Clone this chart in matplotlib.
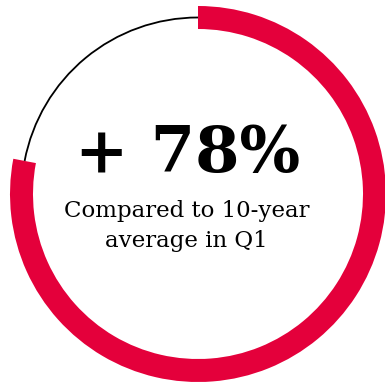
import matplotlib
matplotlib.use("Agg")
import matplotlib.pyplot as plt
from matplotlib.patches import Wedge, Arc

# share of the ring filled in red (percent)
value = 78
headline = "+ 78%"
subtitle_lines = ["Compared to 10-year", "average in Q1"]

RED = "#E4003B"

fig = plt.figure(figsize=(3.85, 3.83), dpi=100)
ax = fig.add_axes([0, 0, 1, 1])
ax.set_xlim(0, 385)
ax.set_ylim(0, 383)
ax.set_aspect("equal")
ax.axis("off")

cx, cy = 198, 189
r = 176.5
ring_w = 23

# red arc runs clockwise from 12 o'clock
sweep = value / 100 * 360
start = 90 - sweep
ax.add_patch(Wedge((cx, cy), r + ring_w / 2, start, 90, width=ring_w,
                   facecolor=RED, edgecolor="none"))
# thin black line for the remainder
ax.add_patch(Arc((cx, cy), 2 * r, 2 * r, theta1=90, theta2=start + 360,
                 color="black", lw=1.3))

ax.text(188, 211, headline, ha="center", va="baseline", fontsize=46,
        fontweight="bold", family="DejaVu Serif")
for i, line in enumerate(subtitle_lines):
    ax.text(186.5, 166 - 30 * i, line, ha="center", va="baseline",
            fontsize=16.5, family="DejaVu Serif")

fig.savefig("out.png", dpi=100)
